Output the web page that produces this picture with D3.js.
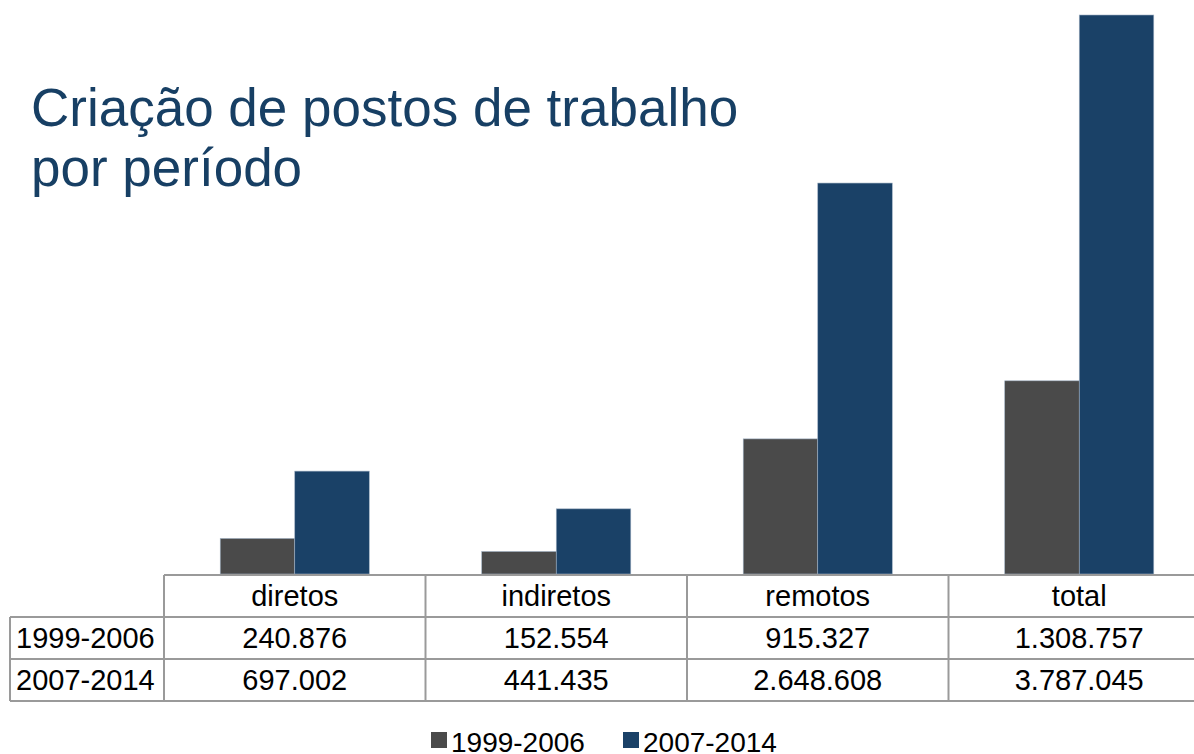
<!DOCTYPE html>
<html>
<head>
<meta charset="utf-8">
<script src="https://cdn.jsdelivr.net/npm/d3@7"></script>
<style>
  body { margin: 0; background: #fff; }
  svg { display: block; font-family: "Liberation Sans", Arial, sans-serif; }
</style>
</head>
<body>
<div id="chart"></div>
<script>
// Data
const categories = ["diretos", "indiretos", "remotos", "total"];
const periods = ["1999-2006", "2007-2014"];
const values1999 = [240876, 152554, 915327, 1308757];
const values2007 = [697002, 441435, 2648608, 3787045];
const labels1999 = ["240.876", "152.554", "915.327", "1.308.757"];
const labels2007 = ["697.002", "441.435", "2.648.608", "3.787.045"];
const titleLines = ["Criação de postos de trabalho", "por período"];

const colors = { "1999-2006": "#4a4a4a", "2007-2014": "#1a4167" };
const gridColor = "#9a9a9a";

const width = 1194;
const height = 754;

const svg = d3
  .select("#chart")
  .append("svg")
  .attr("width", width)
  .attr("height", height);

// Scales
const baseline = 574;
const x = d3
  .scaleBand()
  .domain(categories)
  .range([164, 1210])
  .paddingInner(0.43)
  .paddingOuter(0.215);
const xInner = d3.scaleBand().domain(periods).range([0, x.bandwidth()]);
const y = d3
  .scaleLinear()
  .domain([0, d3.max(values2007)])
  .range([baseline, 15]);

const rows = categories.map((c, i) => ({
  category: c,
  values: [
    { period: periods[0], value: values1999[i] },
    { period: periods[1], value: values2007[i] },
  ],
}));

// Bars
const groups = svg
  .append("g")
  .selectAll("g")
  .data(rows)
  .join("g")
  .attr("transform", (d) => `translate(${x(d.category)},0)`);
groups
  .selectAll("rect")
  .data((d) => d.values)
  .join("rect")
  .attr("x", (d) => xInner(d.period))
  .attr("y", (d) => y(d.value))
  .attr("width", xInner.bandwidth())
  .attr("height", (d) => baseline - y(d.value))
  .attr("fill", (d) => colors[d.period])
  .attr("stroke", "#9fb0c2")
  .attr("stroke-width", 0.6);

// Title
svg
  .append("text")
  .attr("x", 31)
  .attr("y", 126)
  .attr("font-size", 53)
  .attr("fill", "#173f64")
  .selectAll("tspan")
  .data(titleLines)
  .join("tspan")
  .attr("x", 31)
  .attr("dy", (d, i) => (i === 0 ? 0 : 60))
  .text((d) => d);

// Data table
const table = svg.append("g");
const step = x.step();
const colStart = (c) => x(c) - (step * x.paddingInner()) / 2;
const tableLeft = colStart(categories[0]);
const tableRight = tableLeft + step * categories.length;
const labelLeft = 10;
const rowH = 42;
const rowTops = [baseline + 1, baseline + 1 + rowH, baseline + 1 + 2 * rowH];
const tableBottom = rowTops[2] + rowH;

const hLines = [
  [tableLeft, tableRight, rowTops[0]],
  [labelLeft, tableRight, rowTops[1]],
  [labelLeft, tableRight, rowTops[2]],
  [labelLeft, tableRight, tableBottom],
];
table
  .selectAll("line.h")
  .data(hLines)
  .join("line")
  .attr("class", "h")
  .attr("x1", (d) => d[0])
  .attr("x2", (d) => d[1])
  .attr("y1", (d) => d[2])
  .attr("y2", (d) => d[2]);
const vLines = [[labelLeft, rowTops[1]]].concat(
  categories.map((c) => [colStart(c), rowTops[0]]),
  [[tableRight, rowTops[0]]]
);
table
  .selectAll("line.v")
  .data(vLines)
  .join("line")
  .attr("class", "v")
  .attr("x1", (d) => d[0])
  .attr("x2", (d) => d[0])
  .attr("y1", (d) => d[1])
  .attr("y2", tableBottom);
table.selectAll("line").attr("stroke", gridColor).attr("stroke-width", 2);

const cellFont = 29;
table
  .selectAll("text.head")
  .data(categories)
  .join("text")
  .attr("class", "head")
  .attr("x", (d) => x(d) + x.bandwidth() / 2)
  .attr("y", rowTops[0] + 31)
  .attr("text-anchor", "middle")
  .attr("font-size", cellFont)
  .text((d) => d);

const bodyRows = [
  { period: periods[0], labels: labels1999 },
  { period: periods[1], labels: labels2007 },
];
bodyRows.forEach((r, ri) => {
  const yText = rowTops[ri + 1] + 31;
  table
    .append("text")
    .attr("x", 16)
    .attr("y", yText)
    .attr("font-size", cellFont)
    .text(r.period);
  table
    .selectAll(`text.cell${ri}`)
    .data(r.labels)
    .join("text")
    .attr("class", `cell${ri}`)
    .attr("x", (d, i) => x(categories[i]) + x.bandwidth() / 2)
    .attr("y", yText)
    .attr("text-anchor", "middle")
    .attr("font-size", cellFont)
    .text((d) => d);
});

// Legend
const legendItems = [
  { period: periods[0], x: 431 },
  { period: periods[1], x: 623 },
];
const legend = svg
  .append("g")
  .selectAll("g")
  .data(legendItems)
  .join("g")
  .attr("transform", (d) => `translate(${d.x},732)`);
legend
  .append("rect")
  .attr("width", 16)
  .attr("height", 16)
  .attr("fill", (d) => colors[d.period]);
legend
  .append("text")
  .attr("x", 20)
  .attr("y", 20)
  .attr("font-size", 28)
  .text((d) => d.period);
</script>
</body>
</html>
